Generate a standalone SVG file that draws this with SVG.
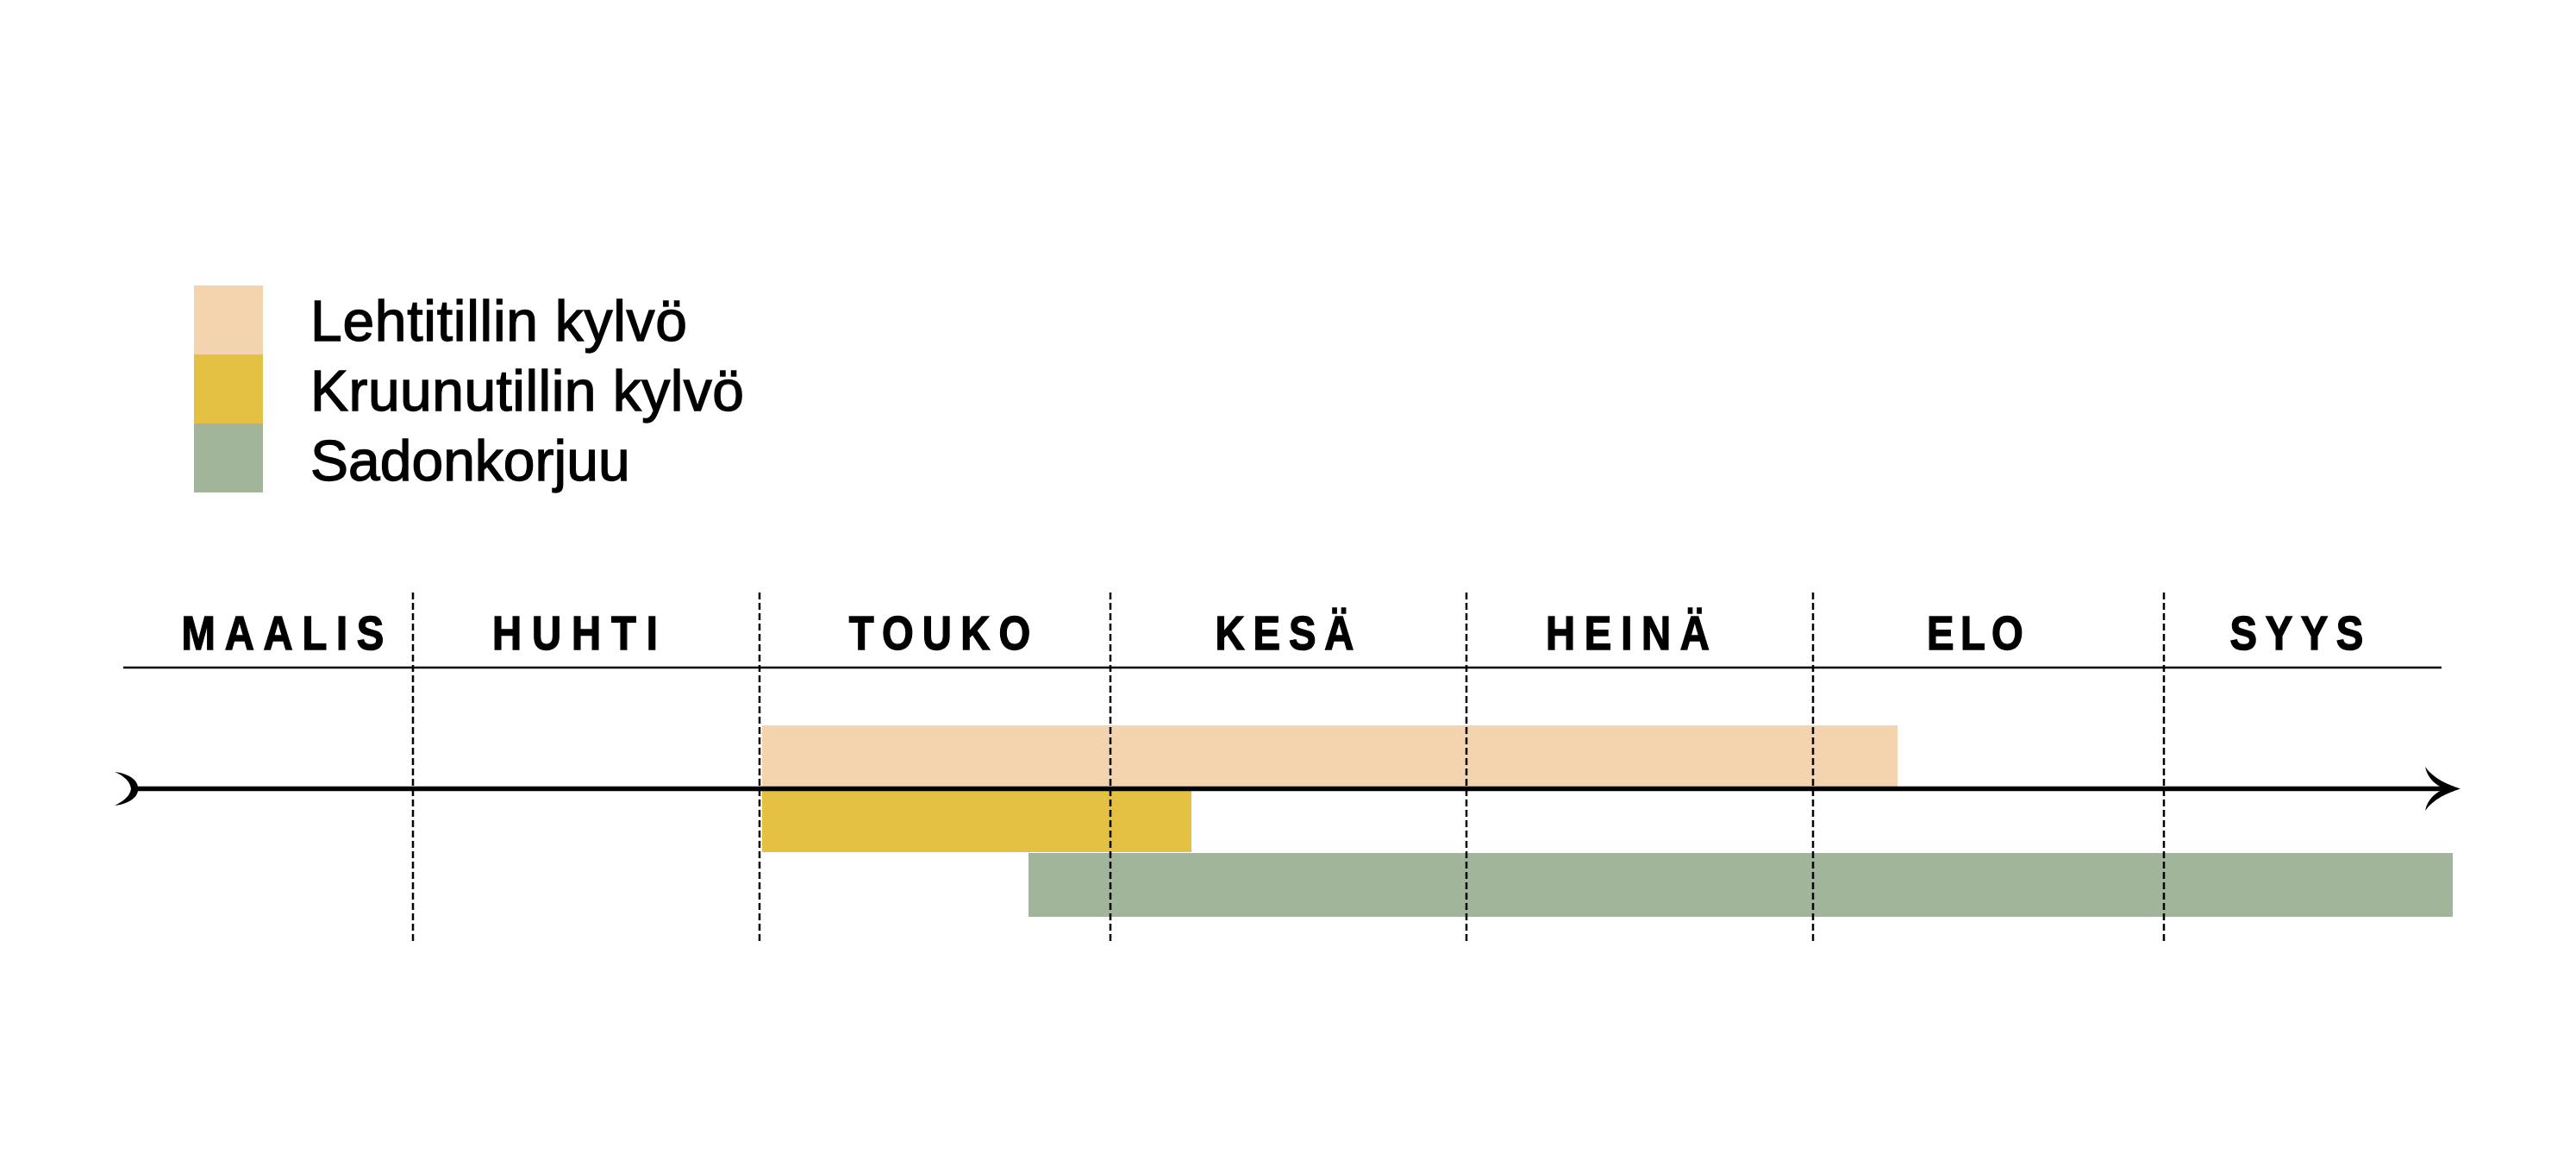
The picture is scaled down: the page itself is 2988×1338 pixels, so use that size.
<svg xmlns="http://www.w3.org/2000/svg" width="2988" height="1338" viewBox="0 0 2988 1338">
<style>
.bg{fill:#ffffff}
.peach{fill:#F4D3AF}
.yellow{fill:#E4C143}
.green{fill:#A1B59B}
.legend{font-family:"Liberation Sans",Arial,sans-serif;font-size:66px;fill:#000;stroke:#000;stroke-width:1.3}
.month{font-family:"Liberation Sans",Arial,sans-serif;font-weight:bold;font-size:55px;fill:#000;stroke:#000;stroke-width:1.4;text-anchor:middle}
.dash{stroke:#000;stroke-width:2.5;stroke-dasharray:8 4;fill:none}
.rule{stroke:#000;stroke-width:2.5;fill:none}
.axis{stroke:#000;stroke-width:5.5;fill:none}
.ink{fill:#000}
</style>
<rect class="bg" x="0" y="0" width="2988" height="1338"/>

<g id="legend">
  <g id="legend-lehtitilli">
    <rect class="peach" x="225" y="331" width="80" height="80"/>
    <text class="legend" x="360" y="395" textLength="437" lengthAdjust="spacing">Lehtitillin kylvö</text>
  </g>
  <g id="legend-kruunutilli">
    <rect class="yellow" x="225" y="411" width="80" height="80"/>
    <text class="legend" x="360" y="476" textLength="503" lengthAdjust="spacing">Kruunutillin kylvö</text>
  </g>
  <g id="legend-sadonkorjuu">
    <rect class="green" x="225" y="491" width="80" height="80"/>
    <text class="legend" x="360" y="557">Sadonkorjuu</text>
  </g>
</g>

<g id="months">
  <text id="m-maalis" class="month" transform="translate(328 753) scale(0.86 1)" x="0" y="0" textLength="273" lengthAdjust="spacing">MAALIS</text>
  <text id="m-huhti" class="month" transform="translate(667 753) scale(0.86 1)" x="0" y="0" textLength="223" lengthAdjust="spacing">HUHTI</text>
  <text id="m-touko" class="month" transform="translate(1090 753) scale(0.86 1)" x="0" y="0" textLength="245" lengthAdjust="spacing">TOUKO</text>
  <text id="m-kesa" class="month" transform="translate(1490 753) scale(0.86 1)" x="0" y="0" textLength="187" lengthAdjust="spacing">KESÄ</text>
  <text id="m-heina" class="month" transform="translate(1888 753) scale(0.86 1)" x="0" y="0" textLength="221" lengthAdjust="spacing">HEINÄ</text>
  <text id="m-elo" class="month" transform="translate(2291 753) scale(0.86 1)" x="0" y="0" textLength="130" lengthAdjust="spacing">ELO</text>
  <text id="m-syys" class="month" transform="translate(2664 753) scale(0.86 1)" x="0" y="0" textLength="180" lengthAdjust="spacing">SYYS</text>
</g>

<g id="bars">
  <rect id="bar-lehtitilli" class="peach" x="884" y="841" width="1317" height="74"/>
  <rect id="bar-kruunutilli" class="yellow" x="884" y="915" width="498" height="73"/>
  <rect id="bar-sadonkorjuu" class="green" x="1193" y="989" width="1652" height="74"/>
</g>

<g id="connectors">
  <line class="rule" x1="143" y1="774" x2="2832" y2="774"/>
  <line class="dash" x1="479" y1="687" x2="479" y2="1095"/>
  <line class="dash" x1="881" y1="687" x2="881" y2="1095"/>
  <line class="dash" x1="1288" y1="687" x2="1288" y2="1095"/>
  <line class="dash" x1="1701" y1="687" x2="1701" y2="1095"/>
  <line class="dash" x1="2103" y1="687" x2="2103" y2="1095"/>
  <line class="dash" x1="2510" y1="687" x2="2510" y2="1095"/>
  <line class="axis" x1="155" y1="914.5" x2="2846" y2="914.5"/>
  <path class="ink" d="M133,895 C151,897 161,906 160,914.5 C161,923 151,932 133,934 C145,928 151,922 152,914.5 C151,907 145,900 133,895 Z"/>
  <path class="ink" d="M2854,914.5 C2838,909 2823,903 2813,889 C2816,903 2826,911 2836,914.5 C2826,918 2816,926 2813,940 C2823,926 2838,920 2854,914.5 Z"/>
</g>
</svg>
